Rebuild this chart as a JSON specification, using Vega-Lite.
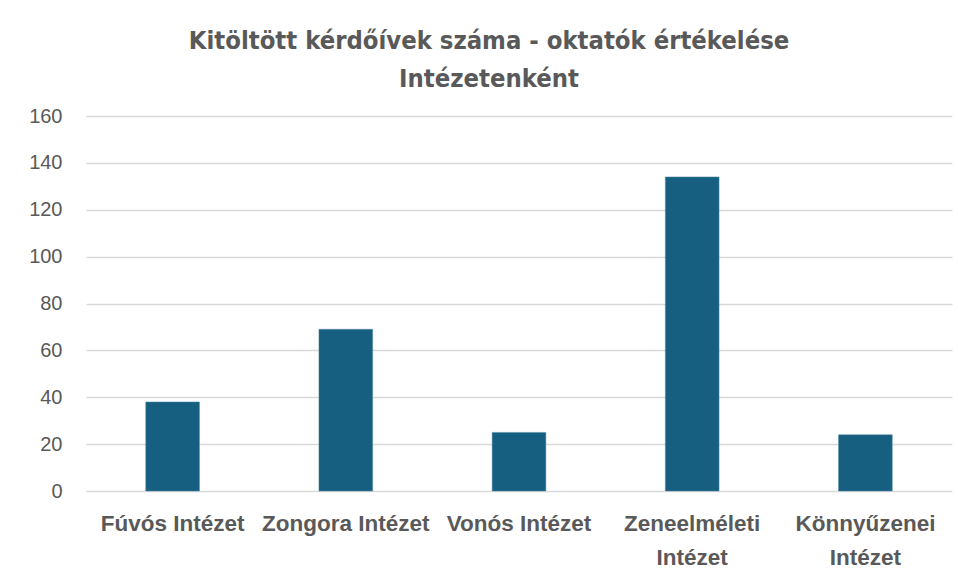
{
  "$schema": "https://vega.github.io/schema/vega-lite/v6.json",
  "autosize": "none",
  "padding": {"left": 86, "top": 116, "right": 6, "bottom": 92},
  "width": 866,
  "height": 375,
  "background": "white",
  "title": {
    "text": ["Kitöltött kérdőívek száma - oktatók értékelése", "Intézetenként"],
    "font": "'DejaVu Sans Condensed', Roboto, sans-serif",
    "fontWeight": "bold",
    "fontSize": 25.4,
    "lineHeight": 38,
    "color": "#595959",
    "anchor": "middle",
    "dx": -30,
    "offset": 14
  },
  "data": {
    "values": [
      {"intezet": "Fúvós Intézet", "db": 38},
      {"intezet": "Zongora Intézet", "db": 69},
      {"intezet": "Vonós Intézet", "db": 25},
      {"intezet": "Zeneelméleti Intézet", "db": 134},
      {"intezet": "Könnyűzenei Intézet", "db": 24}
    ]
  },
  "mark": {"type": "bar", "color": "#175F80", "stroke": "#4A87A3", "strokeWidth": 0.5},
  "encoding": {
    "x": {
      "field": "intezet",
      "type": "nominal",
      "sort": null,
      "scale": {"paddingInner": 0.69, "paddingOuter": 0.345},
      "axis": {
        "title": null,
        "labelAngle": 0,
        "domain": false,
        "ticks": false,
        "labelFont": "Liberation Sans",
        "labelFontWeight": "bold",
        "labelFontSize": 22.5,
        "labelColor": "#595959",
        "labelPadding": 21,
        "labelLineHeight": 34,
        "labelExpr": "length(datum.label) > 15 ? split(datum.label, ' ') : datum.label"
      }
    },
    "y": {
      "field": "db",
      "type": "quantitative",
      "scale": {"domain": [0, 160], "nice": false},
      "axis": {
        "title": null,
        "values": [0, 20, 40, 60, 80, 100, 120, 140, 160],
        "domain": false,
        "ticks": false,
        "labelFont": "Liberation Sans",
        "labelFontSize": 20,
        "labelColor": "#595959",
        "labelPadding": 24,
        "gridColor": "#D9D9D9",
        "gridWidth": 1.3
      }
    }
  },
  "config": {"view": {"stroke": null}}
}
